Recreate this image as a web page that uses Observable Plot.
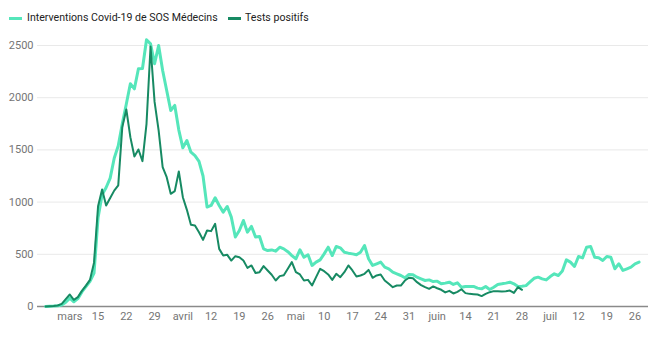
<!DOCTYPE html>
<html>
<head>
<meta charset="utf-8">
<script src="https://cdn.jsdelivr.net/npm/d3@7"></script>
<script src="https://cdn.jsdelivr.net/npm/@observablehq/plot@0.6"></script>
<style>
  html, body { margin: 0; padding: 0; background: #fff; }
  body { width: 660px; height: 339px; overflow: hidden; font-family: Roboto, "Noto Sans", sans-serif; }
  #legend { position: relative; height: 30px; font-size: 10.6px; color: #222; }
  #legend .sw { position: absolute; top: 16.5px; width: 13px; height: 3px; }
  #legend .lb { position: absolute; top: 11px; line-height: 14px; white-space: nowrap; }
  #chart svg { display: block; }
</style>
</head>
<body>
<div id="legend"></div>
<div id="chart"></div>
<script>
// ---- Data (daily) ----
const seriesNames = ["Interventions Covid-19 de SOS Médecins", "Tests positifs"];
const seriesColors = ["#55e6ba", "#178a63"];
const startDate = "2020-03-02";

// Interventions Covid-19 de SOS Médecins : 2 mars -> 27 juillet
const interventions = [
  // mars (2-31)
  0, 2, 4, 8, 15, 40, 80, 45, 75, 140, 190, 240, 320, 850, 1070, 1140, 1230, 1420, 1540, 1750,
  1940, 2133, 2085, 2277, 2280, 2555, 2516, 2325, 2500, 2261,
  // avril
  2069, 1878, 1926, 1690, 1520, 1590, 1478, 1446, 1390, 1250, 952, 968, 1041, 968, 904, 958,
  856, 665, 728, 824, 712, 767, 665, 671, 552, 536, 542, 530, 568, 552,
  // mai
  525, 488, 457, 543, 472, 495, 393, 425, 447, 504, 568, 488, 575, 562, 520, 511, 504, 495,
  520, 584, 457, 393, 409, 425, 377, 361, 329, 313, 297, 275, 307,
  // juin
  305, 281, 265, 249, 255, 239, 243, 217, 224, 233, 211, 227, 185, 192, 192, 192, 176, 169,
  192, 163, 185, 211, 217, 224, 233, 217, 192, 195, 200, 235,
  // juillet (1-27)
  270, 281, 265, 255, 287, 313, 297, 339, 447, 425, 383, 479, 466, 568, 575, 472, 466, 441,
  479, 472, 361, 409, 345, 361, 377, 409, 425
];

// Tests positifs : 2 mars -> 28 juin
const testsPositifs = [
  // mars
  0, 3, 5, 10, 25, 70, 115, 64, 90, 150, 200, 255, 420, 960, 1120, 967, 1040, 1110, 1160, 1718,
  1887, 1622, 1437, 1504, 1392, 1750, 2490, 1960, 1686, 1335,
  // avril
  1239, 1079, 1105, 1293, 1047, 926, 782, 776, 712, 638, 728, 722, 792, 552, 488, 495, 440,
  482, 472, 440, 370, 393, 320, 329, 387, 345, 304, 249, 291, 300,
  // mai
  361, 425, 329, 307, 249, 255, 201, 281, 361, 338, 307, 255, 313, 281, 329, 393, 345, 287,
  297, 313, 351, 275, 297, 307, 249, 217, 185, 201, 201, 249, 275,
  // juin (1-28)
  270, 233, 205, 185, 169, 192, 175, 160, 135, 150, 125, 140, 165, 128, 121, 118, 115, 100,
  121, 137, 147, 147, 144, 147, 153, 130, 185, 160
];

const xTickDates = ["2020-03-08","2020-03-15","2020-03-22","2020-03-29","2020-04-05","2020-04-12",
  "2020-04-19","2020-04-26","2020-05-03","2020-05-10","2020-05-17","2020-05-24","2020-05-31",
  "2020-06-07","2020-06-14","2020-06-21","2020-06-28","2020-07-05","2020-07-12","2020-07-19","2020-07-26"];
const xTickLabels = ["mars","15","22","29","avril","12","19","26","mai","10","17","24","31",
  "juin","14","21","28","juil","12","19","26"];
const yTicks = [0, 500, 1000, 1500, 2000, 2500];
const xDomain = ["2020-02-29T00:00Z", "2020-07-29T08:00Z"];

// ---- Build tables ----
const DAY = 86400000;
const t0 = new Date(startDate + "T00:00Z").getTime();
const toRows = (vals) => vals.map((v, i) => ({date: new Date(t0 + i * DAY), value: v}));
const rowsA = toRows(interventions);
const rowsB = toRows(testsPositifs);
const tickDates = xTickDates.map(s => new Date(s + "T00:00Z"));

// ---- Legend ----
const legend = document.getElementById("legend");
const legendPos = [[9, 27], [228, 245]];
seriesNames.forEach((name, i) => {
  const sw = document.createElement("div");
  sw.className = "sw";
  sw.style.left = legendPos[i][0] + "px";
  sw.style.background = seriesColors[i];
  legend.appendChild(sw);
  const lb = document.createElement("div");
  lb.className = "lb";
  lb.style.left = legendPos[i][1] + "px";
  lb.textContent = name;
  legend.appendChild(lb);
});

// ---- Chart ----
const chart = Plot.plot({
  width: 660,
  height: 309,
  marginLeft: 37,
  marginRight: 12,
  marginTop: 15,
  marginBottom: 33,
  style: {fontFamily: "Roboto, sans-serif", fontSize: "11px", color: "#757575", background: "white"},
  x: {
    type: "utc",
    domain: xDomain.map(s => new Date(s)),
    ticks: tickDates,
    tickFormat: (d) => xTickLabels[tickDates.findIndex(t => +t === +d)],
    tickSize: 0,
    tickPadding: 6,
    label: null
  },
  y: {
    domain: [0, 2500],
    ticks: yTicks,
    tickFormat: (d) => String(d),
    tickSize: 0,
    tickPadding: 4,
    label: null
  },
  marks: [
    Plot.gridY(yTicks.slice(1), {stroke: "#e9e9e9", strokeOpacity: 1}),
    Plot.ruleY([0], {stroke: "#8a8a8a", strokeWidth: 1.5}),
    Plot.lineY(rowsA, {x: "date", y: "value", stroke: seriesColors[0], strokeWidth: 3}),
    Plot.lineY(rowsB, {x: "date", y: "value", stroke: seriesColors[1], strokeWidth: 2})
  ]
});
document.getElementById("chart").appendChild(chart);
</script>
</body>
</html>
